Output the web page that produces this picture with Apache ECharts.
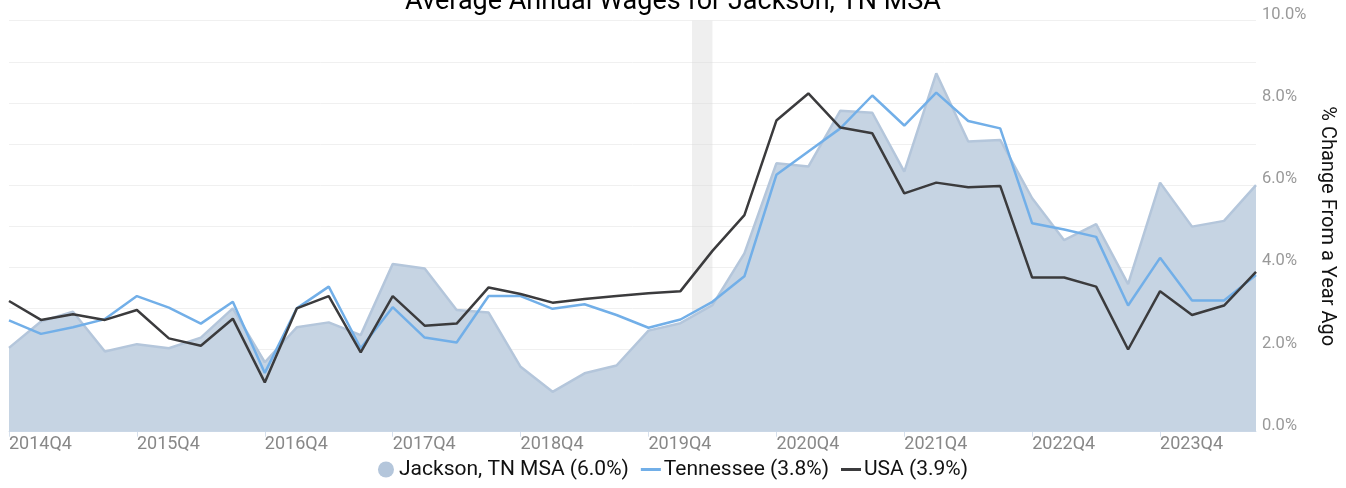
<!DOCTYPE html>
<html>
<head>
<meta charset="utf-8">
<script src="https://cdn.jsdelivr.net/npm/echarts@6/dist/echarts.min.js"></script>
<style>
  html, body { margin: 0; padding: 0; background: #fff; }
  #chart { width: 1346px; height: 488px; }
</style>
</head>
<body>
<div id="chart"></div>
<script>
// quarters shown on the x axis
const quarters = [
    '2014Q4', '2015Q1', '2015Q2', '2015Q3', '2015Q4', '2016Q1', '2016Q2', '2016Q3',
    '2016Q4', '2017Q1', '2017Q2', '2017Q3', '2017Q4', '2018Q1', '2018Q2', '2018Q3',
    '2018Q4', '2019Q1', '2019Q2', '2019Q3', '2019Q4', '2020Q1', '2020Q2', '2020Q3',
    '2020Q4', '2021Q1', '2021Q2', '2021Q3', '2021Q4', '2022Q1', '2022Q2', '2022Q3',
    '2022Q4', '2023Q1', '2023Q2', '2023Q3', '2023Q4', '2024Q1', '2024Q2', '2024Q3'
];

// % change from a year ago
const jackson = [
    2.04, 2.68, 2.92, 1.95, 2.13, 2.03, 2.29, 3.00, 1.69, 2.54,
    2.66, 2.35, 4.08, 3.97, 2.96, 2.90, 1.58, 0.97, 1.42, 1.61,
    2.46, 2.64, 3.08, 4.34, 6.53, 6.45, 7.81, 7.76, 6.33, 8.72,
    7.06, 7.10, 5.68, 4.66, 5.05, 3.59, 6.06, 4.99, 5.13, 6.00
];
const tennessee = [
    2.71, 2.38, 2.54, 2.74, 3.30, 3.02, 2.63, 3.16, 1.43, 3.00,
    3.53, 2.03, 3.03, 2.29, 2.17, 3.30, 3.30, 2.99, 3.10, 2.84,
    2.53, 2.73, 3.16, 3.78, 6.25, 6.82, 7.38, 8.18, 7.45, 8.25,
    7.56, 7.38, 5.07, 4.92, 4.74, 3.07, 4.23, 3.19, 3.19, 3.81
];
const usa = [
    3.18, 2.72, 2.86, 2.72, 2.96, 2.27, 2.09, 2.75, 1.20, 3.00,
    3.30, 1.93, 3.30, 2.58, 2.63, 3.51, 3.35, 3.14, 3.23, 3.30,
    3.37, 3.42, 4.40, 5.27, 7.57, 8.23, 7.40, 7.26, 5.80, 6.06,
    5.95, 5.98, 3.75, 3.75, 3.53, 2.00, 3.42, 2.84, 3.07, 3.89
];

// recession band, in quarter-index units (Feb 2020 - Apr 2020)
const recession = [21.36, 22.0];

const seriesNames = ['Jackson, TN MSA (6.0%)', 'Tennessee (3.8%)', 'USA (3.9%)'];

// flat bar used as legend icon for the line series
const lineIcon = 'path://M0,0 L20,0 L20,3 L0,3 Z';

const chart = echarts.init(document.getElementById('chart'), null, { renderer: 'canvas' });

const option = {
    backgroundColor: '#fff',
    animation: false,
    textStyle: { fontFamily: 'Roboto' },
    title: {
        text: 'Average Annual Wages for Jackson, TN MSA',
        left: 'center',
        top: 0,
        padding: 0,
        textStyle: { color: '#000', fontSize: 27, lineHeight: 4, fontWeight: 'normal', fontFamily: 'Roboto' }
    },
    legend: {
        bottom: 3,
        left: 'center',
        itemGap: 12,
        itemWidth: 20,
        itemHeight: 16,
        symbolKeepAspect: true,
        textStyle: { color: '#111', fontSize: 21, fontFamily: 'Roboto', padding: [0, 0, 0, -2] },
        data: [
            { name: seriesNames[0], icon: 'circle' },
            { name: seriesNames[1], icon: lineIcon },
            { name: seriesNames[2], icon: lineIcon }
        ]
    },
    grid: { left: 9, right: 90, top: 20.7, bottom: 56.3 },
    xAxis: [{
        type: 'category',
        data: quarters,
        boundaryGap: false,
        axisLine: { lineStyle: { color: '#d7e0ec', width: 1 } },
        axisTick: { show: true, interval: 3, length: 5, lineStyle: { color: '#d7e0ec' } },
        axisLabel: { interval: 3, align: 'left', color: '#888', fontSize: 18, margin: 4 },
        splitLine: { show: false }
    }, {
        type: 'value',
        min: 0,
        max: quarters.length - 1,
        show: false
    }],
    yAxis: {
        type: 'value',
        position: 'right',
        min: 0,
        max: 10,
        interval: 1,
        name: '% Change From a Year Ago',
        nameLocation: 'middle',
        nameRotate: -90,
        nameGap: 50,
        nameTextStyle: { color: '#111', fontSize: 20 },
        axisLine: { show: false },
        axisTick: { show: false },
        axisLabel: {
            color: '#999',
            fontSize: 16.5,
            margin: 6,
            verticalAlign: 'bottom',
            lineHeight: 12,
            formatter: v => (v % 2 === 0 ? v.toFixed(1) + '%' : '')
        },
        splitLine: { lineStyle: { color: '#f0f0f0', width: 1 } }
    },
    series: [
        {
            name: seriesNames[0],
            type: 'line',
            data: jackson,
            symbol: 'none',
            z: 1,
            lineStyle: { color: '#b4c6db', width: 2.5 },
            itemStyle: { color: '#b4c6db' },
            areaStyle: { color: '#c6d4e3', opacity: 1 }
        },
        {
            name: 'recession',
            type: 'line',
            xAxisIndex: 1,
            data: [[recession[0], 0]],
            symbol: 'none',
            lineStyle: { opacity: 0 },
            silent: true,
            z: 2,
            markArea: {
                silent: true,
                itemStyle: { color: 'rgba(215,215,215,0.4)' },
                data: [[{ xAxis: recession[0] }, { xAxis: recession[1] }]]
            }
        },
        {
            name: seriesNames[1],
            type: 'line',
            data: tennessee,
            symbol: 'none',
            z: 3,
            lineStyle: { color: '#72afe8', width: 2.5 },
            itemStyle: { color: '#72afe8' }
        },
        {
            name: seriesNames[2],
            type: 'line',
            data: usa,
            symbol: 'none',
            z: 4,
            lineStyle: { color: '#3b3b3d', width: 2.5 },
            itemStyle: { color: '#3b3b3d' }
        }
    ]
};

chart.setOption(option);
window.addEventListener('resize', () => chart.resize());
</script>
</body>
</html>
